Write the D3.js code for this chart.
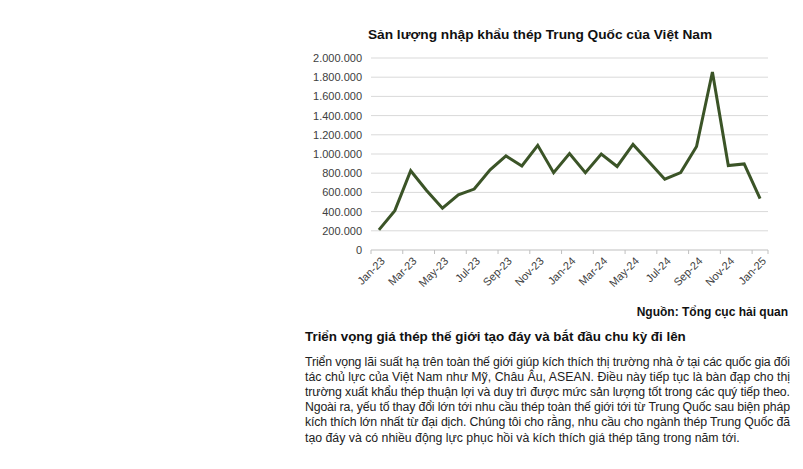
<!DOCTYPE html>
<html lang="vi">
<head>
<meta charset="UTF-8">
<title>Sản lượng nhập khẩu thép Trung Quốc của Việt Nam</title>
<script src="https://d3js.org/d3.v7.min.js"></script>
<style>
    body { margin: 0; background: #fff; }
    svg { display: block; }
    text { font-family: "Liberation Sans", Arial, sans-serif; }
</style>
</head>
<body>
<script>
    // tháng Jan-23 .. Jan-25
    const months = ["Jan-23","Feb-23","Mar-23","Apr-23","May-23","Jun-23","Jul-23","Aug-23","Sep-23","Oct-23","Nov-23","Dec-23",
                    "Jan-24","Feb-24","Mar-24","Apr-24","May-24","Jun-24","Jul-24","Aug-24","Sep-24","Oct-24","Nov-24","Dec-24",
                    "Jan-25"];
    // sản lượng (tấn)
    const volumes = [210000, 410000, 825000, 620000, 435000, 575000, 635000, 835000, 980000, 875000, 1090000, 805000,
                     1005000, 805000, 1000000, 870000, 1100000, 920000, 737000, 807000, 1078000, 1854000, 880000, 897000,
                     536000];
    const yTicks = [0, 200000, 400000, 600000, 800000, 1000000, 1200000, 1400000, 1600000, 1800000, 2000000];
    const xLabels = months.filter((m, i) => i % 2 === 0);

    const paragraph = [
        "Triển vọng lãi suất hạ trên toàn thế giới giúp kích thích thị trường nhà ở tại các quốc gia đối",
        "tác chủ lực của Việt Nam như Mỹ, Châu Âu, ASEAN. Điều này tiếp tục là bàn đạp cho thị",
        "trường xuất khẩu thép thuận lợi và duy trì được mức sản lượng tốt trong các quý tiếp theo.",
        "Ngoài ra, yếu tố thay đổi lớn tới nhu cầu thép toàn thế giới tới từ Trung Quốc sau biện pháp",
        "kích thích lớn nhất từ đại dịch. Chúng tôi cho rằng, nhu cầu cho ngành thép Trung Quốc đã",
        "tạo đáy và có nhiều động lực phục hồi và kích thích giá thép tăng trong năm tới."
    ];

    const width = 803, height = 469;
    const plot = { left: 371, right: 768, top: 58, bottom: 250 };

    const svg = d3.select("body").append("svg")
        .attr("width", width)
        .attr("height", height);

    /* tiêu đề biểu đồ */
    svg.append("text")
        .attr("x", (368 + 712) / 2)
        .attr("y", 39)
        .attr("text-anchor", "middle")
        .style("font-size", "13.7px")
        .style("font-weight", "bold")
        .attr("fill", "#111")
        .text("Sản lượng nhập khẩu thép Trung Quốc của Việt Nam");

    const x = d3.scaleBand()
        .domain(months)
        .range([plot.left, plot.right]);

    const y = d3.scaleLinear()
        .domain([0, 2000000])
        .range([plot.bottom, plot.top]);

    const fmt = d => d === 0 ? "0" : d3.format(",")(d).replace(/,/g, ".");

    /* lưới ngang */
    svg.append("g")
        .selectAll("line")
        .data(yTicks.filter(d => d > 0))
        .join("line")
        .attr("x1", plot.left)
        .attr("x2", plot.right)
        .attr("y1", d => y(d))
        .attr("y2", d => y(d))
        .attr("stroke", "#d9d9d9")
        .attr("stroke-width", 1);

    /* trục Y */
    const yAxis = d3.axisLeft(y)
        .tickValues(yTicks)
        .tickFormat(fmt)
        .tickSize(0)
        .tickPadding(9);
    svg.append("g")
        .attr("transform", `translate(${plot.left}, 0)`)
        .call(yAxis)
        .call(g => g.select(".domain").remove())
        .call(g => g.selectAll("text")
            .style("font-size", "11px")
            .attr("fill", "#404040"));

    /* trục X */
    svg.append("line")
        .attr("x1", plot.left)
        .attr("x2", plot.right)
        .attr("y1", plot.bottom)
        .attr("y2", plot.bottom)
        .attr("stroke", "#bfbfbf");

    svg.append("g")
        .selectAll("line")
        .data(months.filter((m, i) => i % 2 === 0))
        .join("line")
        .attr("x1", d => x(d))
        .attr("x2", d => x(d))
        .attr("y1", plot.bottom)
        .attr("y2", plot.bottom + 4)
        .attr("stroke", "#bfbfbf");
    svg.append("line")
        .attr("x1", plot.right).attr("x2", plot.right)
        .attr("y1", plot.bottom).attr("y2", plot.bottom + 4)
        .attr("stroke", "#bfbfbf");

    svg.append("g")
        .selectAll("text")
        .data(xLabels)
        .join("text")
        .attr("transform", d => `translate(${x(d) + x.bandwidth() / 2 + 4}, ${plot.bottom + 9}) rotate(-45)`)
        .attr("text-anchor", "end")
        .attr("dy", "0.35em")
        .style("font-size", "11px")
        .attr("fill", "#404040")
        .text(d => d);

    /* đường sản lượng */
    const line = d3.line()
        .x((d, i) => x(months[i]) + x.bandwidth() / 2)
        .y(d => y(d));

    svg.append("path")
        .datum(volumes)
        .attr("d", line)
        .attr("fill", "none")
        .attr("stroke", "#3b5427")
        .attr("stroke-width", 3)
        .attr("stroke-linejoin", "miter");

    /* nguồn */
    svg.append("text")
        .attr("x", 788)
        .attr("y", 316)
        .attr("text-anchor", "end")
        .style("font-size", "12px")
        .style("font-weight", "bold")
        .attr("fill", "#111")
        .text("Nguồn: Tổng cục hải quan");

    /* đề mục */
    svg.append("text")
        .attr("x", 305)
        .attr("y", 341)
        .style("font-size", "13.4px")
        .style("font-weight", "bold")
        .attr("fill", "#111")
        .text("Triển vọng giá thép thế giới tạo đáy và bắt đầu chu kỳ đi lên");

    /* đoạn văn (căn đều) */
    svg.append("g")
        .selectAll("text")
        .data(paragraph)
        .join("text")
        .attr("x", 305)
        .attr("y", (d, i) => 366 + i * 15.1)
        .style("font-size", "12.3px")
        .attr("fill", "#222")
        .each(function (d, i) {
            if (i < paragraph.length - 1) {
                d3.select(this)
                  .attr("textLength", 485)
                  .attr("lengthAdjust", "spacing");
            }
        })
        .text(d => d);
</script>
</body>
</html>
